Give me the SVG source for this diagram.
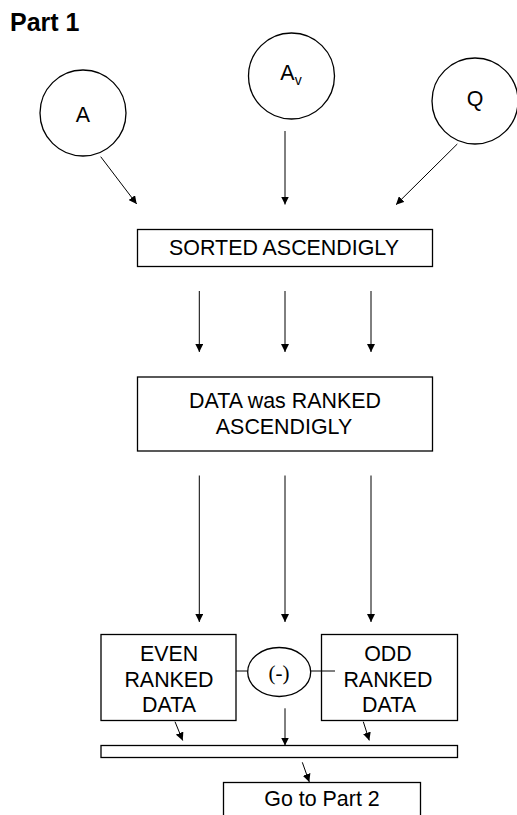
<svg xmlns="http://www.w3.org/2000/svg" width="517" height="815" viewBox="0 0 517 815">
  <style>
    .shape { fill: #fff; stroke: #000; stroke-width: 1.3; }
    .label { font-family: "Liberation Sans", Arial, sans-serif; font-size: 21.4px; fill: #000; text-anchor: middle; }
    .title { font-family: "Liberation Sans", Arial, sans-serif; font-size: 25px; font-weight: bold; fill: #000; }
    .op { font-family: "Liberation Serif", "Times New Roman", serif; font-size: 21px; fill: #000; text-anchor: middle; }
    .edge { fill: none; stroke: #000; stroke-width: 1; }
  </style>
  <defs>
    <marker id="arrow" viewBox="0 0 10 10" refX="10" refY="5" markerWidth="8" markerHeight="8" markerUnits="userSpaceOnUse" orient="auto">
      <path d="M0,0 L10,5 L0,10 Z" fill="#000"/>
    </marker>
  </defs>

  <rect width="517" height="815" fill="#fff"/>

  <text class="title" x="10" y="31">Part 1</text>

  <g id="node-a">
    <circle class="shape" cx="83" cy="113" r="43"/>
    <text class="label" x="83" y="121.5" font-size="20.5">A</text>
  </g>
  <g id="node-av">
    <circle class="shape" cx="291.5" cy="76" r="43"/>
    <text class="label" x="291" y="79.5" font-size="20.5">A<tspan font-size="14" dy="5">v</tspan></text>
  </g>
  <g id="node-q">
    <circle class="shape" cx="475" cy="101" r="43"/>
    <text class="label" x="475" y="106" font-size="20.5">Q</text>
  </g>

  <g id="node-sorted">
    <rect class="shape" x="137.5" y="229.5" width="295" height="37"/>
    <text class="label" x="284" y="255">SORTED ASCENDIGLY</text>
  </g>

  <g id="node-ranked">
    <rect class="shape" x="137.5" y="377" width="295" height="74"/>
    <text class="label" x="285" y="408">DATA was RANKED</text>
    <text class="label" x="284" y="434">ASCENDIGLY</text>
  </g>

  <g id="node-even">
    <rect class="shape" x="101" y="634.5" width="135" height="86"/>
    <text class="label" x="169" y="661">EVEN</text>
    <text class="label" x="169" y="687">RANKED</text>
    <text class="label" x="169" y="712">DATA</text>
  </g>

  <g id="node-minus">
    <ellipse class="shape" cx="279.2" cy="672" rx="31.5" ry="24.5"/>
    <text class="op" x="279" y="680">(-)</text>
  </g>

  <g id="node-odd">
    <rect class="shape" x="321.5" y="634.5" width="136" height="86"/>
    <text class="label" x="388" y="661">ODD</text>
    <text class="label" x="388" y="687">RANKED</text>
    <text class="label" x="389" y="712">DATA</text>
  </g>

  <g id="node-bar">
    <rect class="shape" x="101" y="745.5" width="356.5" height="12"/>
  </g>

  <g id="node-next">
    <rect class="shape" x="223.5" y="782.5" width="197" height="40"/>
    <text class="label" x="322" y="806">Go to Part 2</text>
  </g>

  <g id="connectors">
    <line class="edge" x1="100.7" y1="156.7" x2="136.7" y2="204" marker-end="url(#arrow)"/>
    <line class="edge" x1="285" y1="131" x2="285" y2="204.5" marker-end="url(#arrow)"/>
    <line class="edge" x1="457.3" y1="144" x2="396" y2="204.7" marker-end="url(#arrow)"/>

    <line class="edge" x1="199.3" y1="291" x2="199.3" y2="352" marker-end="url(#arrow)"/>
    <line class="edge" x1="285" y1="291" x2="285" y2="352" marker-end="url(#arrow)"/>
    <line class="edge" x1="371" y1="291" x2="371" y2="352" marker-end="url(#arrow)"/>

    <line class="edge" x1="199.3" y1="475.5" x2="199.3" y2="622" marker-end="url(#arrow)"/>
    <line class="edge" x1="285" y1="475.5" x2="285" y2="622" marker-end="url(#arrow)"/>
    <line class="edge" x1="371" y1="475.5" x2="371" y2="622" marker-end="url(#arrow)"/>

    <line class="edge" x1="236" y1="671" x2="247.7" y2="671"/>
    <line class="edge" x1="310.7" y1="671" x2="335" y2="671"/>

    <line class="edge" x1="175" y1="721.7" x2="182.7" y2="740.5" marker-end="url(#arrow)"/>
    <line class="edge" x1="285" y1="708.3" x2="285" y2="745.5" marker-end="url(#arrow)"/>
    <line class="edge" x1="363.3" y1="721.7" x2="369.3" y2="740.5" marker-end="url(#arrow)"/>

    <line class="edge" x1="302.3" y1="762.3" x2="309.3" y2="782" marker-end="url(#arrow)"/>
  </g>
</svg>
